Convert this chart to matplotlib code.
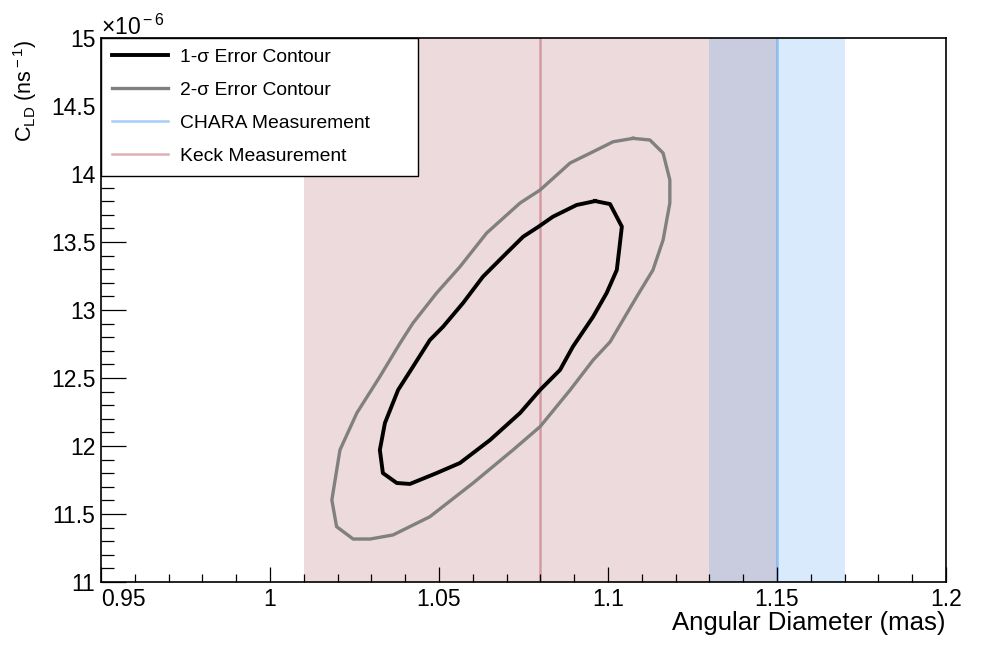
import matplotlib
matplotlib.use("Agg")
import matplotlib.pyplot as plt
from matplotlib.ticker import MultipleLocator, FixedLocator

plt.rcParams['font.family'] = ['Liberation Sans', 'DejaVu Sans']
plt.rcParams['mathtext.fontset'] = 'custom'
plt.rcParams['mathtext.rm'] = 'Liberation Sans'
plt.rcParams['mathtext.it'] = 'Liberation Sans:italic'
plt.rcParams['mathtext.bf'] = 'Liberation Sans:bold'

# ---- data (y values in units of 1e-6 ns^-1) ----
sigma1_x = [1.0962, 1.1006, 1.1041, 1.1033, 1.1026, 1.0996, 1.0956, 1.0896, 1.0858, 1.0799,
            1.0740, 1.0651, 1.0562, 1.0493, 1.0414, 1.0375, 1.0334, 1.0325, 1.0340, 1.0379,
            1.0423, 1.0473, 1.0512, 1.0571, 1.0630, 1.0700, 1.0749, 1.0793, 1.0837, 1.0907]
sigma1_y = [13.801, 13.779, 13.613, 13.441, 13.294, 13.125, 12.951, 12.730, 12.559, 12.412,
            12.243, 12.044, 11.875, 11.801, 11.721, 11.728, 11.801, 11.971, 12.169, 12.412,
            12.583, 12.779, 12.877, 13.051, 13.245, 13.419, 13.539, 13.610, 13.686, 13.772]

sigma2_x = [1.1074, 1.1124, 1.1163, 1.1183, 1.1183, 1.1163, 1.1133, 1.1085, 1.1006, 1.0956,
            1.0888, 1.0799, 1.0719, 1.0601, 1.0473, 1.0364, 1.0296, 1.0246, 1.0197, 1.0183,
            1.0207, 1.0257, 1.0325, 1.0385, 1.0423, 1.0493, 1.0562, 1.0641, 1.0740, 1.0799,
            1.0888, 1.0956, 1.1015]
sigma2_y = [14.262, 14.250, 14.154, 13.956, 13.787, 13.515, 13.294, 13.098, 12.765, 12.632,
            12.412, 12.142, 11.971, 11.728, 11.480, 11.346, 11.316, 11.316, 11.407, 11.603,
            11.971, 12.243, 12.510, 12.757, 12.904, 13.125, 13.318, 13.566, 13.787, 13.882,
            14.081, 14.164, 14.237]

keck_center, keck_err = 1.08, 0.07
chara_center, chara_err = 1.15, 0.02

x_ticks = [0.95, 1.0, 1.05, 1.1, 1.15, 1.2]
x_tick_labels = ['0.95', '1', '1.05', '1.1', '1.15', '1.2']
y_ticks = [11, 11.5, 12, 12.5, 13, 13.5, 14, 14.5, 15]
y_tick_labels = ['11', '11.5', '12', '12.5', '13', '13.5', '14', '14.5', '15']

labels = ['1-σ Error Contour', '2-σ Error Contour', 'CHARA Measurement', 'Keck Measurement']

# ---- figure ----
W, H = 982, 647
fig = plt.figure(figsize=(W / 100, H / 100), dpi=100)
ax = fig.add_axes([101 / W, 1 - 582 / H, 845 / W, 544 / H])

ax.axvspan(keck_center - keck_err, keck_center + keck_err, color='#EDDADC', lw=0, zorder=0)
ax.axvspan(chara_center - chara_err, chara_center + chara_err,
           color=(60 / 255, 150 / 255, 240 / 255), alpha=0.2, lw=0, zorder=0.5)

l_chara = ax.axvline(chara_center, color=(40 / 255, 140 / 255, 235 / 255), alpha=0.42, lw=1.8, zorder=1)
l_keck = ax.axvline(keck_center, color=(180 / 255, 80 / 255, 90 / 255), alpha=0.45, lw=1.8, zorder=1)

l1, = ax.plot(sigma1_x + sigma1_x[:1], sigma1_y + sigma1_y[:1], color='black', lw=2.8,
              solid_joinstyle='round', zorder=3)
l2, = ax.plot(sigma2_x + sigma2_x[:1], sigma2_y + sigma2_y[:1], color='#808080', lw=2.4,
              solid_joinstyle='round', zorder=2)

ax.set_xlim(0.95, 1.2)
ax.set_ylim(11, 15)

ax.xaxis.set_major_locator(FixedLocator(x_ticks))
ax.set_xticklabels(x_tick_labels)
ax.xaxis.set_minor_locator(MultipleLocator(0.01))
ax.yaxis.set_major_locator(FixedLocator(y_ticks))
ax.set_yticklabels(y_tick_labels)
ax.yaxis.set_minor_locator(MultipleLocator(0.1))

ax.tick_params(axis='both', which='both', direction='in', top=False, right=False,
               width=0.9, colors='black', labelsize=16.5)
ax.tick_params(axis='x', which='major', length=10.8, pad=4.5)
ax.tick_params(axis='x', which='minor', length=5.6)
ax.tick_params(axis='y', which='major', length=18, pad=4)
ax.tick_params(axis='y', which='minor', length=9.4)

for s in ax.spines.values():
    s.set_linewidth(1.2)
    s.set_color('black')

xt = ax.get_xticklabels()
xt[0].set_horizontalalignment('left')

ax.set_xlabel('Angular Diameter (mas)', fontsize=18.5, loc='right')
ax.xaxis.set_label_coords(1.0, -0.054)
ax.xaxis.label.set_verticalalignment('top')
ax.set_ylabel(r'C$_{\rm LD}$ (ns$^{\rm -1}$)', fontsize=15.5, loc='top')
ax.yaxis.set_label_coords(-0.073, 0.997)

fig.text(101 / W, 1 - 35 / H, r'$\times$10$^{\rm -6}$', fontsize=16.5, ha='left', va='baseline')

leg = ax.legend([l1, l2, l_chara, l_keck], labels, loc='upper left',
                bbox_to_anchor=(0, 1, 0.3752, 0), mode='expand', borderaxespad=0,
                fontsize=13.9, frameon=True, fancybox=False, framealpha=1,
                edgecolor='black', handlelength=2.9, handletextpad=0.62,
                labelspacing=0.8, borderpad=0.55)
leg.get_frame().set_linewidth(1.0)
leg.set_zorder(10)

fig.savefig('out.png', dpi=100)
